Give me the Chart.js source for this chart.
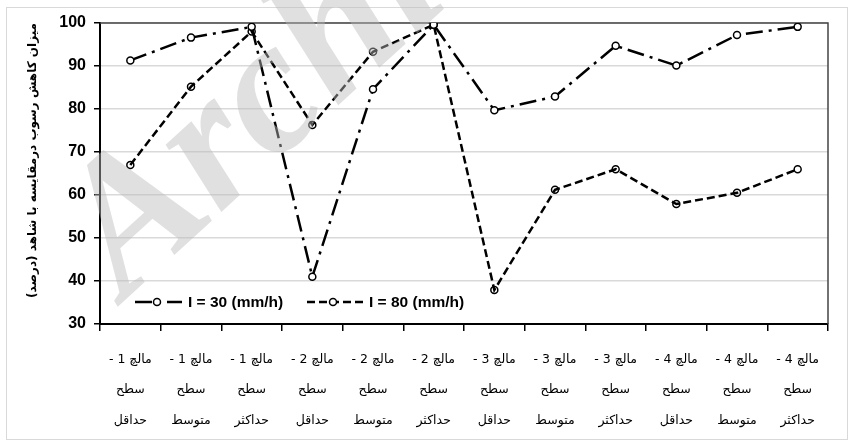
<!DOCTYPE html>
<html>
<head>
<meta charset="utf-8">
<script src="https://cdn.jsdelivr.net/npm/chart.js@4.4.1/dist/chart.umd.min.js"></script>
<style>
  html, body { margin: 0; padding: 0; background: #fff; }
  #wrap { position: relative; width: 851px; height: 443px; }
  #frame { position: absolute; left: 6px; top: 7px; right: 3px; bottom: 3px; border: 1.5px solid #d9d9d9; }
  canvas { position: absolute; left: 0; top: 0; }
</style>
</head>
<body>
<div id="wrap">
  <div id="frame"></div>
  <canvas id="chart" width="851" height="443"></canvas>
</div>
<script>
// categories: mulch type / surface level
var mulchNames = ['مالچ 1 -', 'مالچ 1 -', 'مالچ 1 -', 'مالچ 2 -', 'مالچ 2 -', 'مالچ 2 -',
                  'مالچ 3 -', 'مالچ 3 -', 'مالچ 3 -', 'مالچ 4 -', 'مالچ 4 -', 'مالچ 4 -'];
var surfaceWord = 'سطح';
var levelNames = ['حداقل', 'متوسط', 'حداکثر', 'حداقل', 'متوسط', 'حداکثر',
                  'حداقل', 'متوسط', 'حداکثر', 'حداقل', 'متوسط', 'حداکثر'];

// sediment reduction (%) vs control
var i30 = [91.3, 96.6, 99.1, 41.0, 84.6, 99.6, 79.7, 82.9, 94.7, 90.1, 97.2, 99.1];
var i80 = [67.0, 85.2, 98.0, 76.3, 93.3, 99.6, 37.9, 61.2, 66.0, 57.9, 60.5, 66.0];

var seriesNames = ['I = 30 (mm/h)', 'I = 80 (mm/h)'];
var yTitle = 'میزان کاهش رسوب درمقایسه با شاهد (درصد)';
var yMin = 30, yMax = 100, yStep = 10;

// wrap RTL strings so the canvas lays them out right-to-left
function rtl(s) { return '\u2067' + s + '\u2069'; }

var labels = mulchNames.map(function(m, i) {
    return [rtl(m), rtl(surfaceWord), rtl(levelNames[i])];
});

var arabicFont = "'DejaVu Sans', 'Noto Sans', sans-serif";
var latinFont = "'Liberation Sans', Arial, sans-serif";

// top + right frame of the plot area
var plotFrame = {
    id: 'plotFrame',
    beforeDatasetsDraw: function(chart) {
        var a = chart.chartArea, ctx = chart.ctx;
        ctx.save();
        ctx.strokeStyle = '#444';
        ctx.lineWidth = 1.5;
        ctx.beginPath();
        ctx.moveTo(a.left, a.top);
        ctx.lineTo(a.right, a.top);
        ctx.lineTo(a.right, a.bottom);
        ctx.stroke();
        ctx.restore();
    }
};

// legend drawn inside the plot, bottom-left
var innerLegend = {
    id: 'innerLegend',
    afterDatasetsDraw: function(chart) {
        var ctx = chart.ctx, a = chart.chartArea;
        var y = a.bottom - 22;
        var items = [
            { x0: a.left + 35, x1: a.left + 82, mx: a.left + 57, tx: a.left + 88, ds: chart.data.datasets[0] },
            { x0: a.left + 207, x1: a.left + 265, mx: a.left + 233, tx: a.left + 269, ds: chart.data.datasets[1] }
        ];
        ctx.save();
        items.forEach(function(it) {
            ctx.strokeStyle = '#000';
            ctx.lineWidth = 2.5;
            ctx.setLineDash(it.ds.borderDash);
            ctx.beginPath();
            ctx.moveTo(it.x0, y);
            ctx.lineTo(it.x1, y);
            ctx.stroke();
            ctx.setLineDash([]);
            ctx.beginPath();
            ctx.arc(it.mx, y, 3.5, 0, Math.PI * 2);
            ctx.fillStyle = '#fff';
            ctx.fill();
            ctx.lineWidth = 1.5;
            ctx.stroke();
            ctx.fillStyle = '#000';
            ctx.font = 'bold 15.5px ' + latinFont;
            ctx.textBaseline = 'middle';
            ctx.textAlign = 'left';
            ctx.fillText(it.ds.label, it.tx, y + 1);
        });
        ctx.restore();
    }
};

// faint watermark across the left part
var watermark = {
    id: 'watermark',
    afterDraw: function(chart) {
        var ctx = chart.ctx;
        ctx.save();
        ctx.translate(125, 300);
        ctx.rotate(-0.74);
        ctx.font = "italic bold 190px 'Liberation Serif', 'DejaVu Serif', serif";
        ctx.fillStyle = 'rgba(187,187,187,0.45)';
        ctx.textBaseline = 'alphabetic';
        ctx.fillText('Archive', 0, 0);
        ctx.restore();
    }
};

new Chart(document.getElementById('chart').getContext('2d'), {
    type: 'line',
    data: {
        labels: labels,
        datasets: [{
            label: seriesNames[0],
            data: i30,
            borderColor: '#000',
            borderWidth: 2.5,
            borderDash: [17, 6, 3, 6],
            pointRadius: 3.5,
            pointBorderWidth: 1.5,
            pointBackgroundColor: '#fff',
            pointBorderColor: '#000',
            tension: 0
        }, {
            label: seriesNames[1],
            data: i80,
            borderColor: '#000',
            borderWidth: 2.5,
            borderDash: [8, 4],
            pointRadius: 3.5,
            pointBorderWidth: 1.5,
            pointBackgroundColor: 'rgba(255,255,255,0)',
            pointBorderColor: '#000',
            tension: 0
        }]
    },
    options: {
        responsive: false,
        animation: false,
        layout: { padding: { top: 23, right: 23, left: 0, bottom: 0 } },
        plugins: {
            legend: { display: false },
            tooltip: { enabled: false }
        },
        scales: {
            x: {
                offset: true,
                grid: { drawOnChartArea: false, drawTicks: true, tickLength: 7, color: '#000', lineWidth: 1.5, offset: true },
                border: { color: '#000', width: 2 },
                ticks: {
                    color: '#000',
                    autoSkip: false,
                    maxRotation: 0,
                    padding: 13,
                    font: { family: arabicFont, size: 12.5, lineHeight: 2.45 }
                },
                afterFit: function(s) { s.height = 119; }
            },
            y: {
                min: yMin,
                max: yMax,
                ticks: {
                    stepSize: yStep,
                    color: '#000',
                    padding: 8,
                    font: { family: latinFont, size: 16, weight: 'bold' }
                },
                grid: { color: '#d9d9d9', lineWidth: 1.5, tickColor: '#000', tickLength: 6, tickWidth: 1.5 },
                border: { color: '#000', width: 2 },
                title: {
                    display: true,
                    text: rtl(yTitle),
                    align: 'end',
                    color: '#000',
                    padding: { top: 26, bottom: 0 },
                    font: { family: arabicFont, size: 12, weight: 'bold' }
                },
                afterFit: function(s) { s.width = 100; }
            }
        }
    },
    plugins: [plotFrame, innerLegend, watermark]
});
</script>
</body>
</html>
